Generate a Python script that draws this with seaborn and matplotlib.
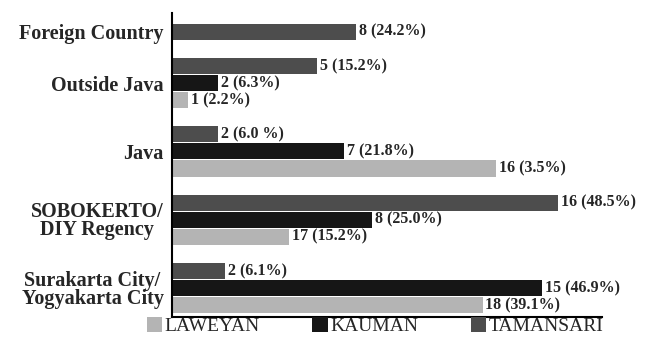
import numpy as np, pandas as pd
import seaborn as sns, matplotlib.pyplot as plt
from matplotlib.patches import Patch

categories = ["Foreign Country", "Outside Java", "Java",
              "SOBOKERTO/\nDIY Regency", "Surakarta City/\nYogyakarta City"]
series = ["LAWEYAN", "KAUMAN", "TAMANSARI"]

# bar lengths (the drawn bars don't follow the counts exactly)
laweyan_len = [None, 0.7, 14.1, 5.1, 13.5]
kauman_len = [None, 2.0, 7.5, 8.7, 16.1]
tamansari_len = [8.0, 6.3, 2.0, 16.8, 2.3]

laweyan_lab = [None, "1 (2.2%)", "16 (3.5%)", "17 (15.2%)", "18 (39.1%)"]
kauman_lab = [None, "2 (6.3%)", "7 (21.8%)", "8 (25.0%)", "15 (46.9%)"]
tamansari_lab = ["8 (24.2%)", "5 (15.2%)", "2 (6.0 %)", "16 (48.5%)", "2 (6.1%)"]

colors = {"LAWEYAN": "#b4b4b4", "KAUMAN": "#161616", "TAMANSARI": "#4d4d4d"}

lens = {"LAWEYAN": laweyan_len, "KAUMAN": kauman_len, "TAMANSARI": tamansari_len}
labs = {"LAWEYAN": laweyan_lab, "KAUMAN": kauman_lab, "TAMANSARI": tamansari_lab}

# one row per bar, TAMANSARI on top inside each group, a blank row between groups
rows, order, tick_pos = [], [], []
for i, cat in enumerate(categories):
    if i > 0:
        order.append(f"gap{i}")
    idx = []
    for s in ["TAMANSARI", "KAUMAN", "LAWEYAN"]:
        v = lens[s][i]
        if v is None:
            continue
        key = f"{cat}|{s}"
        rows.append({"row": key, "length": v, "series": s, "label": labs[s][i]})
        idx.append(len(order))
        order.append(key)
    tick_pos.append(np.mean(idx))
df = pd.DataFrame(rows)

sns.set_style("white")
plt.rcParams['font.family'] = ['Liberation Serif', 'DejaVu Serif']

fig = plt.figure(figsize=(6.51, 3.41), dpi=100)
ax = fig.add_axes([0.264, 0.070, 0.661, 0.892])
sns.barplot(data=df, y="row", x="length", hue="series", order=order,
            hue_order=series, palette=colors, dodge=False, width=0.95,
            orient="h", legend=False, ax=ax, linewidth=0)

ax.set_ylim(16.7, -1.1)
ax.set_xlim(0, 18.7)
ax.set_yticks(tick_pos)
ax.set_yticklabels(categories, fontsize=14.5, fontweight='bold',
                   multialignment='center', linespacing=0.88)
ax.set_xticks([])
ax.set_xlabel("")
ax.set_ylabel("")
ax.tick_params(axis='y', length=0, pad=6)
for sp in ["top", "right"]:
    ax.spines[sp].set_visible(False)
for sp in ["left", "bottom"]:
    ax.spines[sp].set_color("black")
    ax.spines[sp].set_linewidth(1.5)

for _, r in df.iterrows():
    ax.annotate(r["label"], xy=(r["length"], order.index(r["row"])),
                xytext=(2, 0), textcoords='offset points', va='center', ha='left',
                fontsize=11.5, fontweight='bold')

handles = [Patch(facecolor=colors[s], edgecolor='none') for s in series]
fig.legend(handles, series, loc='center', bbox_to_anchor=(0.576, 0.044), ncol=3,
           frameon=False, fontsize=14, handlelength=0.8, handleheight=0.8,
           handletextpad=0.12, columnspacing=2.7, borderpad=0)

plt.savefig("out.png", dpi=100)
